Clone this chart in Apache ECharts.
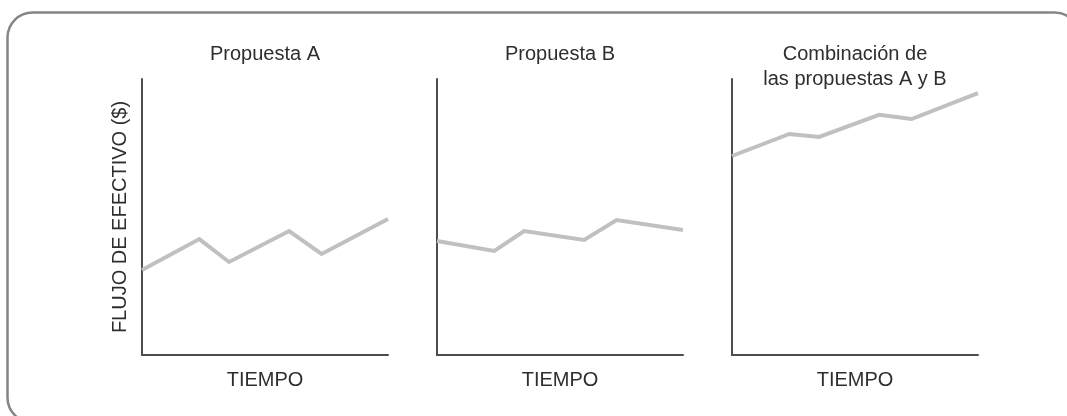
<!DOCTYPE html>
<html>
<head>
<meta charset="utf-8">
<style>
  html, body { margin: 0; padding: 0; background: #ffffff; }
  #chart { width: 1067px; height: 416px; }
</style>
<script src="https://cdn.jsdelivr.net/npm/echarts@6/dist/echarts.min.js"></script>
</head>
<body>
<div id="chart"></div>
<script>
// Data (arbitrary units: time 0-10, cash flow 0-100)
var timePoints = [0, 2.33, 3.54, 5.98, 7.3, 10];
var propuestaA = [30.8, 42.0, 33.7, 44.9, 36.6, 49.3];
var propuestaB = [41.3, 37.7, 44.9, 41.7, 48.9, 45.3];
var combinacion = [72.1, 80.1, 79.0, 87.0, 85.5, 94.9];
var panelTitles = [['Propuesta A'], ['Propuesta B'], ['Combinación de', 'las propuestas A y B']];
var xAxisTitle = 'TIEMPO';
var yAxisTitle = 'FLUJO DE EFECTIVO ($)';

var FONT = 'Liberation Sans, Arial, sans-serif';
var TEXT_COLOR = '#2e2e2e';
var AXIS_COLOR = '#4d4d4d';
var LINE_COLOR = '#c0c0c2';

var gridLefts = [142, 437, 732];
var gridW = 246, gridTop = 79, gridH = 276;
var seriesData = [propuestaA, propuestaB, combinacion];

function pairs(xs, ys) {
  return xs.map(function (x, i) { return [x, ys[i]]; });
}

var grids = [], xAxes = [], yAxes = [], series = [], graphics = [];

gridLefts.forEach(function (left, i) {
  grids.push({ left: left, top: gridTop, width: gridW, height: gridH, containLabel: false });
  xAxes.push({
    type: 'value', gridIndex: i, min: 0, max: 10,
    axisLine: { show: true, onZero: false, lineStyle: { color: AXIS_COLOR, width: 2 } },
    axisTick: { show: false }, axisLabel: { show: false }, splitLine: { show: false },
    name: xAxisTitle, nameLocation: 'middle', nameGap: 15,
    nameTextStyle: { fontFamily: FONT, fontSize: 20, color: TEXT_COLOR, verticalAlign: 'top' }
  });
  yAxes.push({
    type: 'value', gridIndex: i, min: 0, max: 100,
    axisLine: { show: true, onZero: false, lineStyle: { color: AXIS_COLOR, width: 2 } },
    axisTick: { show: false }, axisLabel: { show: false }, splitLine: { show: false },
    name: i === 0 ? yAxisTitle : '', nameLocation: 'middle', nameGap: 12,
    nameTextStyle: { fontFamily: FONT, fontSize: 20, color: TEXT_COLOR }
  });
  series.push({
    type: 'line', xAxisIndex: i, yAxisIndex: i,
    data: pairs(timePoints, seriesData[i]),
    showSymbol: false, clip: false, silent: true,
    lineStyle: { color: LINE_COLOR, width: 4, join: 'miter' },
    animation: false
  });
  var lines = panelTitles[i];
  var cx = left + gridW / 2;
  lines.forEach(function (t, k) {
    graphics.push({
      type: 'text', x: cx, y: 54 + k * 25, silent: true,
      style: { text: t, fontFamily: FONT, fontSize: 20, fill: TEXT_COLOR, textAlign: 'center', textVerticalAlign: 'middle', align: 'center', verticalAlign: 'middle' }
    });
  });
});

graphics.push({
  type: 'rect', silent: true, z: -1,
  shape: { x: 7.5, y: 12.5, width: 1072, height: 410, r: 25 },
  style: { fill: 'none', stroke: '#858585', lineWidth: 2.5 }
});

var chart = echarts.init(document.getElementById('chart'), null, { renderer: 'canvas' });
chart.setOption({
  backgroundColor: '#ffffff',
  animation: false,
  grid: grids,
  xAxis: xAxes,
  yAxis: yAxes,
  series: series,
  graphic: graphics
});
</script>
</body>
</html>
